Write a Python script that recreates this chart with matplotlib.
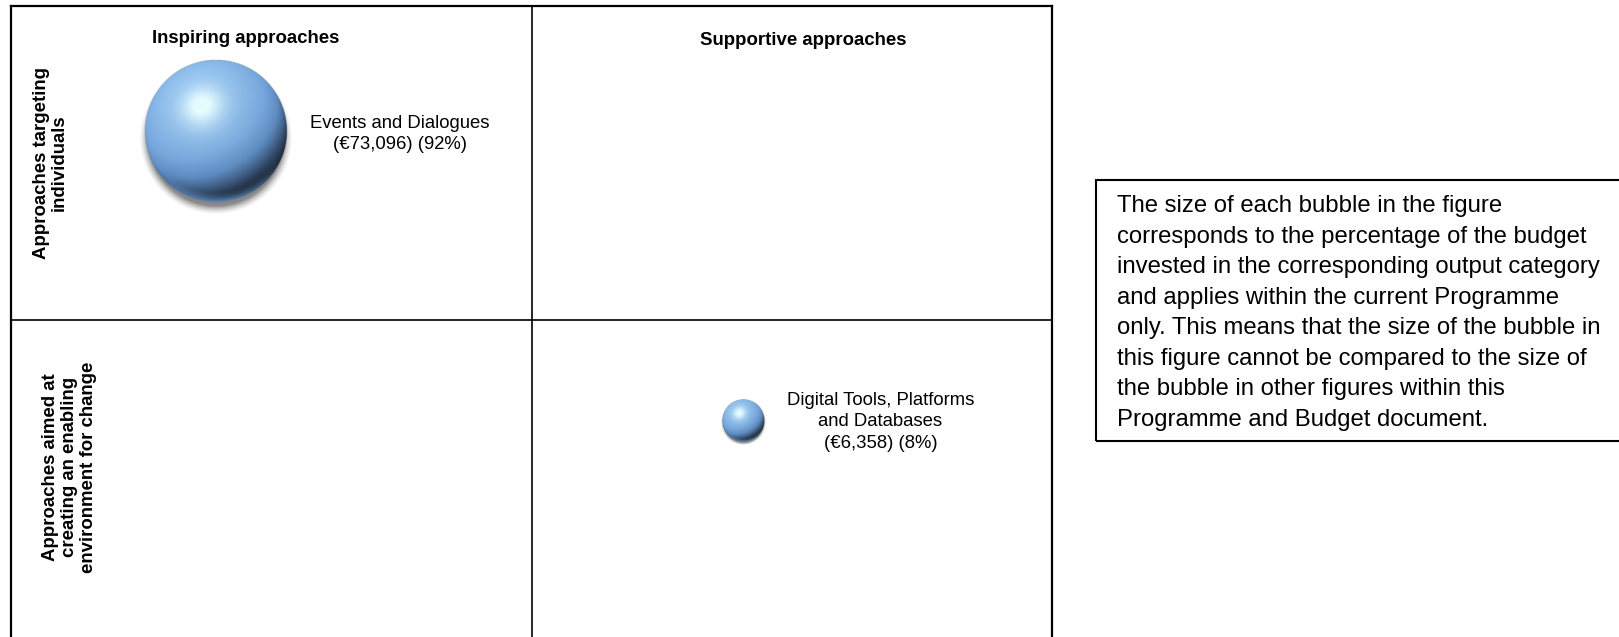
import numpy as np
import matplotlib
matplotlib.use("Agg")
import matplotlib.pyplot as plt
from matplotlib.patches import Rectangle

# ---------------- data ----------------
categories = ["Events and Dialogues", "Digital Tools, Platforms\nand Databases"]
amounts_eur = [73096, 6358]
percent_of_budget = [92, 8]
bubble_column = [0, 1]   # 0 = Inspiring, 1 = Supportive
bubble_row = [0, 1]      # 0 = targeting individuals, 1 = enabling environment
column_headers = ["Inspiring approaches", "Supportive approaches"]
row_headers = ["Approaches targeting\nindividuals",
               "Approaches aimed at\ncreating an enabling\nenvironment for change"]
note_text = ("The size of each bubble in the figure\n"
             "corresponds to the percentage of the budget\n"
             "invested in the corresponding output category\n"
             "and applies within the current Programme\n"
             "only. This means that the size of the bubble in\n"
             "this figure cannot be compared to the size of\n"
             "the bubble in other figures within this\n"
             "Programme and Budget document.")

# ---------------- layout / style ----------------
W, H, DPI = 1619, 637, 100
plt.rcParams['font.family'] = ['Liberation Sans', 'DejaVu Sans']

fig = plt.figure(figsize=(W / DPI, H / DPI), dpi=DPI)
fig.patch.set_facecolor('white')


def fx(px):
    return px / W


def fy(py):
    return 1 - py / H


ax_left, ax_right, ax_top, ax_bot = 11, 1052, 5.7, 645
row_px = 320 - ax_top
ax = fig.add_axes([fx(ax_left), fy(ax_bot), (ax_right - ax_left) / W, (ax_bot - ax_top) / H])
ax.set_xlim(0, 2)
ax.set_ylim(2 - (ax_bot - ax_top) / row_px, 2)
ax.set_xticks([])
ax.set_yticks([])
for sp in ax.spines.values():
    sp.set_linewidth(1.6)
    sp.set_color('black')
ax.axvline(1, color='black', lw=1.2, zorder=1)
ax.axhline(1, color='black', lw=1.2, zorder=1)

# headers
header_pos = [(0.4515, 1.897), (1.5226, 1.890)]
for (hx, hy), txt in zip(header_pos, column_headers):
    ax.text(hx, hy, txt, ha='center', va='center', fontsize=13.4, fontweight='bold')
row_pos = [(0.076, 1.50), (0.113, 0.532)]
row_ls = [1.10, 1.15]
for (rx, ry), txt, ls in zip(row_pos, row_headers, row_ls):
    ax.text(rx, ry, txt, ha='center', va='center', rotation=90, multialignment='center',
            fontsize=13.4, fontweight='bold', linespacing=ls)


def sphere_rgba(N, S):
    lin = np.linspace(-S, S, N)
    u, v = np.meshgrid(lin, -lin)
    rr = np.sqrt(u ** 2 + v ** 2)
    inside = np.clip((1 - rr) / (2 * S / N) + 0.5, 0, 1)
    z = np.sqrt(np.clip(1 - rr ** 2, 0, 1))
    Hv = np.array([-0.2, 0.36, 0.91])
    Hv = Hv / np.linalg.norm(Hv)
    L = 2 * Hv[2] * Hv - np.array([0, 0, 1.0])
    L = L / np.linalg.norm(L)
    d = u * L[0] + v * L[1] + z * L[2]
    stops_d = [-0.45, -0.15, 0.15, 0.45, 1.0]
    stops_c = [(0.09, 0.12, 0.16), (0.22, 0.32, 0.45), (0.37, 0.55, 0.76),
               (0.46, 0.65, 0.86), (0.56, 0.75, 0.93)]
    col = np.stack([np.interp(d, stops_d, [c[j] for c in stops_c]) for j in range(3)], -1)
    nh = np.clip(u * Hv[0] + v * Hv[1] + z * Hv[2], 0, 1)
    spec = np.clip(0.85 * nh ** 24 + 0.25 * nh ** 5, 0, 1)
    spec_col = np.array([0.90, 0.99, 1.0])
    col = col * (1 - spec[..., None]) + spec_col * spec[..., None]
    # reflected light on lower rim
    down = np.clip(-v / np.maximum(rr, 1e-6), 0, 1)
    refl = (np.clip((rr - 0.86) / 0.14, 0, 1) ** 1.3) * down ** 2 * 0.85
    col = col * (1 - refl[..., None]) + np.array([0.42, 0.62, 0.86]) * refl[..., None]
    # soft shadow below
    sh_r = np.sqrt(u ** 2 + (v + 0.10) ** 2)
    sh_a = 0.65 * np.clip((1.08 - sh_r) / 0.13, 0, 1) ** 1.5
    alpha = inside + sh_a * (1 - inside)
    shadow_col = np.array([0.28, 0.28, 0.28])
    rgb = (col * inside[..., None] + shadow_col * (sh_a * (1 - inside))[..., None]) / \
        np.maximum(alpha, 1e-6)[..., None]
    return np.dstack([np.clip(rgb, 0, 1), alpha])


k_px = 71 / np.sqrt(92)          # bubble radius (px) per sqrt(percent)
local_pos = [(0.394, 0.601), (0.406, 0.679)]   # position inside its quadrant
label_gap_px = 23
label_dy_px = [-3, -1]

for i, (cat, amt, pct) in enumerate(zip(categories, amounts_eur, percent_of_budget)):
    x = bubble_column[i] + local_pos[i][0]
    y = (1 - bubble_row[i]) + local_pos[i][1]
    r_px = k_px * np.sqrt(pct)
    s = (2 * r_px * 0.96 * 72 / DPI) ** 2
    ax.scatter([x], [y], s=s, color='#5f8fc3', edgecolors='none', zorder=2)
    cx, cy = ax.transData.transform((x, y))
    S = 1.35
    R = r_px * S
    inv = ax.transData.inverted()
    x0, y0 = inv.transform((cx - R, cy - R))
    x1, y1 = inv.transform((cx + R, cy + R))
    img = sphere_rgba(int(max(120, 6 * R)), S)
    ax.imshow(img, extent=(x0, x1, y0, y1), origin='upper', zorder=3,
              interpolation='bilinear', aspect='auto')
    label = f"{cat}\n(€{amt:,}) ({pct}%)"
    ax.annotate(label, xy=(x, y),
                xytext=((r_px + label_gap_px) * 72 / DPI, label_dy_px[i] * 72 / DPI),
                textcoords='offset points', ha='left', va='center',
                multialignment='center', fontsize=13.3, linespacing=1.32, zorder=4)

ax.set_xlim(0, 2)
ax.set_ylim(2 - (ax_bot - ax_top) / row_px, 2)

# note box
fig.add_artist(Rectangle((fx(1096), fy(441)), fx(1660) - fx(1096), fy(180) - fy(441),
                         transform=fig.transFigure, fill=False, lw=1.5, ec='black'))
fig.text(fx(1117), fy(313), note_text, ha='left', va='center', fontsize=17.2, linespacing=1.50)

fig.savefig('out.png', dpi=DPI, facecolor='white')
